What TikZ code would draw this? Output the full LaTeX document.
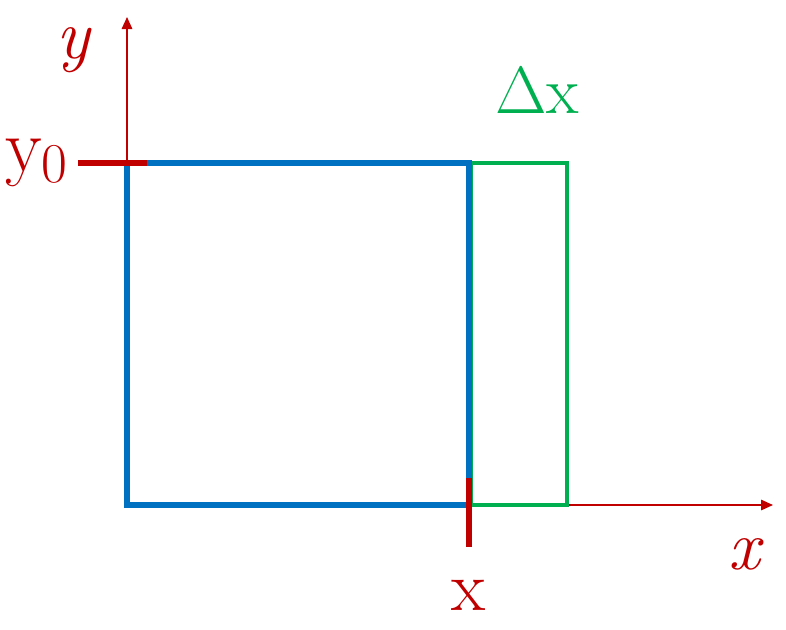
\documentclass[tikz,border=0pt]{standalone}
\usepackage{fontspec}
\usetikzlibrary{arrows.meta,positioning}
\definecolor{crimson}{RGB}{192,0,0}
\definecolor{ocean}{RGB}{0,112,192}
\definecolor{leaf}{RGB}{0,176,80}
\tikzset{
  >={Triangle[length=2.4mm,width=2.1mm]},
  axis/.style={->,draw=crimson,line width=0.8pt},
  tick/.style={draw=crimson,line width=3pt},
  lbl/.style={text=#1,inner sep=0pt,font=\fontsize{40}{46}\selectfont},
  lbl/.default=crimson,
}
\begin{document}
\begin{tikzpicture}[x=0.02cm,y=-0.02cm]
    \useasboundingbox (0,0) rectangle (786,629);
    % axes
    \coordinate (o) at (127,505);
    \coordinate (ytip) at (127,17);
    \coordinate (xtip) at (773,505);
    \draw[axis] (o) -- (ytip);
    \draw[axis] (o) -- (xtip);
    % strips
    \draw[leaf,line width=1.9pt] (471,163) rectangle (567,505);
    \draw[ocean,line width=3pt] (127,163) rectangle (469,505);
    % ticks
    \coordinate (t1a) at (78,163);  \coordinate (t1b) at (147,163);
    \coordinate (t2a) at (469,478); \coordinate (t2b) at (469,547);
    \draw[tick] (t1a) -- (t1b);
    \draw[tick] (t2a) -- (t2b);
    % labels
    \node[lbl] (ylab) at (73,50) {\itshape y};
    \node[lbl] (xlab) at (744,554) {\itshape x};
    \node[lbl,anchor=east,font=\fontsize{43}{48}\selectfont] (y0) at (68,163)
      {y\raisebox{-0.35ex}{\fontsize{32}{38}\selectfont 0}};
    \node[lbl] (xpos) at (469,595) {x};
    \node[lbl=leaf,font=\fontsize{38}{44}\selectfont] (dx) at (537,90) {Δx};
  \end{tikzpicture}
\end{document}
